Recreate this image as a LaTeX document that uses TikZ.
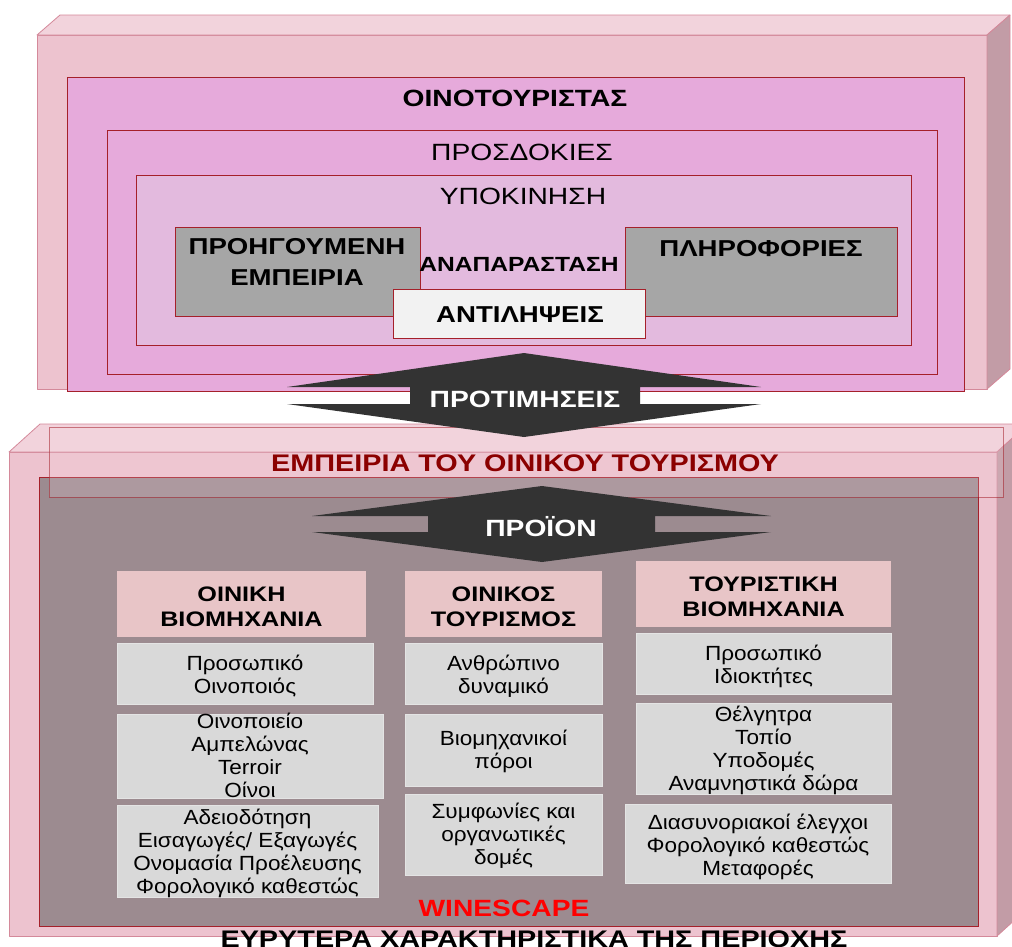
\documentclass[tikz,border=0pt]{standalone}
\usepackage{fontspec}
\setmainfont{Liberation Sans}[FakeStretch=1.1]
\newfontfamily\widefont{Liberation Sans}[FakeStretch=1.2]
\usetikzlibrary{fit}

\definecolor{slabfront}{HTML}{EDC3CF}
\definecolor{slabtop}{HTML}{F2D3DC}
\definecolor{slabside}{HTML}{C29CA6}
\definecolor{slabedge}{HTML}{D4899A}
\definecolor{orchid}{HTML}{E6AADB}
\definecolor{orchidpale}{HTML}{E3BADE}
\definecolor{frame}{HTML}{A5202A}
\definecolor{stone}{HTML}{A6A6A6}
\definecolor{paper}{HTML}{F2F2F2}
\definecolor{ink}{HTML}{333333}
\definecolor{mauve}{HTML}{9C8B90}
\definecolor{blush}{HTML}{E8C5C7}
\definecolor{mist}{HTML}{D9D9D9}
\definecolor{mistedge}{HTML}{E4E4E4}
\definecolor{wine}{HTML}{8B0000}

\begin{document}
\begin{tikzpicture}[x=1pt,y=-1pt,
  face/.style={draw=slabedge, line width=0.8pt, line join=round},
  panel/.style={draw=frame, line width=1pt, inner sep=0pt},
  head/.style={fill=blush, draw=none, inner sep=0pt},
  cell/.style={fill=mist, draw=mistedge, line width=0.8pt, inner sep=0pt},
  % multi-line labels are anchored on the baseline of their last line
  lbl/.style={anchor=base, inner sep=0pt, align=center},
  boldcaps/.style={lbl, font=\widefont\bfseries\fontsize{23}{31}\selectfont},
  plaincaps/.style={lbl, font=\widefont\fontsize{23.5}{28}\selectfont},
  headtext/.style={lbl, font=\widefont\bfseries\fontsize{21}{24.5}\selectfont},
  celltext/.style={lbl, font=\fontsize{20.5}{22.7}\selectfont},
  arrowtext/.style={boldcaps, text=white, font=\widefont\bfseries\fontsize{23.5}{28}\selectfont}
]
\useasboundingbox (0,0) rectangle (1012,946);

% ---------- upper slab: the wine tourist ----------
\filldraw[face, fill=slabfront] (37,35) rectangle (987,389);
\filldraw[face, fill=slabtop] (37,35) -- (60,15) -- (1010,15) -- (987,35) -- cycle;
\filldraw[face, fill=slabside] (987,35) -- (1010,15) -- (1010,369) -- (987,389) -- cycle;

\node[panel, fill=orchid, fit={(67,77) (964,391)}] (tourist) {};
\node[panel, fill=orchid, fit={(107,130) (937,374)}] (expect) {};
\node[panel, fill=orchidpale, fit={(136,175) (911,345)}] (motive) {};
\node[panel, fill=stone, fit={(175,227) (420,316)}] (past) {};
\node[panel, fill=stone, fit={(625,227) (897,316)}] (info) {};
\node[panel, fill=paper, fit={(393,289) (645,338)}] (percept) {};

\node[boldcaps, font=\widefont\bfseries\fontsize{23.5}{28}\selectfont] (touristlbl) at (515,106) {ΟΙΝΟΤΟΥΡΙΣΤΑΣ};
\node[plaincaps] (expectlbl) at (522,160) {ΠΡΟΣΔΟΚΙΕΣ};
\node[plaincaps] (motivelbl) at (523,204) {ΥΠΟΚΙΝΗΣΗ};
\node[boldcaps] (pastlbl) at (297,285) {ΠΡΟΗΓΟΥΜΕΝΗ\\ΕΜΠΕΙΡΙΑ};
\node[boldcaps] (infolbl) at (761,256) {ΠΛΗΡΟΦΟΡΙΕΣ};
\node[boldcaps, font=\widefont\bfseries\fontsize{20.5}{24}\selectfont] (reprlbl) at (519,271) {ΑΝΑΠΑΡΑΣΤΑΣΗ};
\node[boldcaps] (perceptlbl) at (520,322) {ΑΝΤΙΛΗΨΕΙΣ};

% ---------- lower slab: the wine tourism experience ----------
\filldraw[face, fill=slabfront] (9,452) rectangle (997,936);
\filldraw[face, fill=slabtop] (9,452) -- (40,424) -- (1028,424) -- (997,452) -- cycle;
\filldraw[face, fill=slabside] (997,452) -- (1028,424) -- (1028,908) -- (997,936) -- cycle;

\node[panel, fill=mauve, fit={(39,477) (978,926)}] (scape) {};
\node[draw=frame, draw opacity=0.55, fill=slabtop, fill opacity=0.2, line width=1pt, inner sep=0pt,
      fit={(49,427) (1003,497)}] (experience) {};
\node[boldcaps, text=wine, font=\widefont\bfseries\fontsize{24}{28}\selectfont] (experiencelbl) at (525,471)
  {ΕΜΠΕΙΡΙΑ ΤΟΥ ΟΙΝΙΚΟΥ ΤΟΥΡΙΣΜΟΥ};

% ---------- two-way arrows ----------
\fill[ink] (524,353) -- (761,387) -- (640,387) -- (640,404) -- (761,404) -- (524,437)
  -- (287,404) -- (410,404) -- (410,387) -- (287,387) -- cycle;
\node[arrowtext] (preflbl) at (525,407) {ΠΡΟΤΙΜΗΣΕΙΣ};

\fill[ink] (542,486) -- (771,516) -- (655,516) -- (655,532) -- (771,532) -- (542,562)
  -- (312,532) -- (428,532) -- (428,516) -- (312,516) -- cycle;
\node[arrowtext] (productlbl) at (541,536) {ΠΡΟΪΟΝ};

% ---------- column headers ----------
\node[head, fit={(117,571) (366,637)}] (wineind) {};
\node[head, fit={(405,571) (602,637)}] (winetour) {};
\node[head, fit={(636,561) (891,627)}] (tourind) {};
\node[headtext] (wineindlbl) at (241.5,626) {ΟΙΝΙΚΗ\\ΒΙΟΜΗΧΑΝΙΑ};
\node[headtext] (winetourlbl) at (503.5,626) {ΟΙΝΙΚΟΣ\\ΤΟΥΡΙΣΜΟΣ};
\node[headtext] (tourindlbl) at (763.5,616) {ΤΟΥΡΙΣΤΙΚΗ\\ΒΙΟΜΗΧΑΝΙΑ};

% ---------- column cells ----------
\node[cell, fit={(117,643) (373,704)}] (a1) {};
\node[cell, fit={(117,714) (383,798)}] (a2) {};
\node[cell, fit={(117,805) (378,897)}] (a3) {};
\node[cell, fit={(405,643) (602,704)}] (b1) {};
\node[cell, fit={(405,714) (602,786)}] (b2) {};
\node[cell, fit={(405,794) (602,875)}] (b3) {};
\node[cell, fit={(636,633) (891,694)}] (c1) {};
\node[cell, fit={(636,703) (891,794)}] (c2) {};
\node[cell, fit={(625,804) (891,883)}] (c3) {};

\node[celltext] (a1lbl) at (245,693) {Προσωπικό\\Οινοποιός};
\node[celltext] (a2lbl) at (250,797) {Οινοποιείο\\Αμπελώνας\\Terroir\\Οίνοι};
\node[celltext] (a3lbl) at (247.5,893) {Αδειοδότηση\\Εισαγωγές/ Εξαγωγές\\Ονομασία Προέλευσης\\Φορολογικό καθεστώς};
\node[celltext] (b1lbl) at (503.5,693) {Ανθρώπινο\\δυναμικό};
\node[celltext] (b2lbl) at (503.5,768) {Βιομηχανικοί\\πόροι};
\node[celltext] (b3lbl) at (503.5,864) {Συμφωνίες και\\οργανωτικές\\δομές};
\node[celltext] (c1lbl) at (763.5,683) {Προσωπικό\\Ιδιοκτήτες};
\node[celltext] (c2lbl) at (763.5,790) {Θέλγητρα\\Τοπίο\\Υποδομές\\Αναμνηστικά δώρα};
\node[celltext] (c3lbl) at (758,875) {Διασυνοριακοί έλεγχοι\\Φορολογικό καθεστώς\\Μεταφορές};

% ---------- landscape captions ----------
\node[boldcaps, text=red, font=\widefont\bfseries\fontsize{23.5}{28}\selectfont] (winescape) at (504,916) {WINESCAPE};
\node[boldcaps, font=\widefont\bfseries\fontsize{24}{28}\selectfont] (region) at (534,947) {ΕΥΡΥΤΕΡΑ ΧΑΡΑΚΤΗΡΙΣΤΙΚΑ ΤΗΣ ΠΕΡΙΟΧΗΣ};
\end{tikzpicture}
\end{document}
